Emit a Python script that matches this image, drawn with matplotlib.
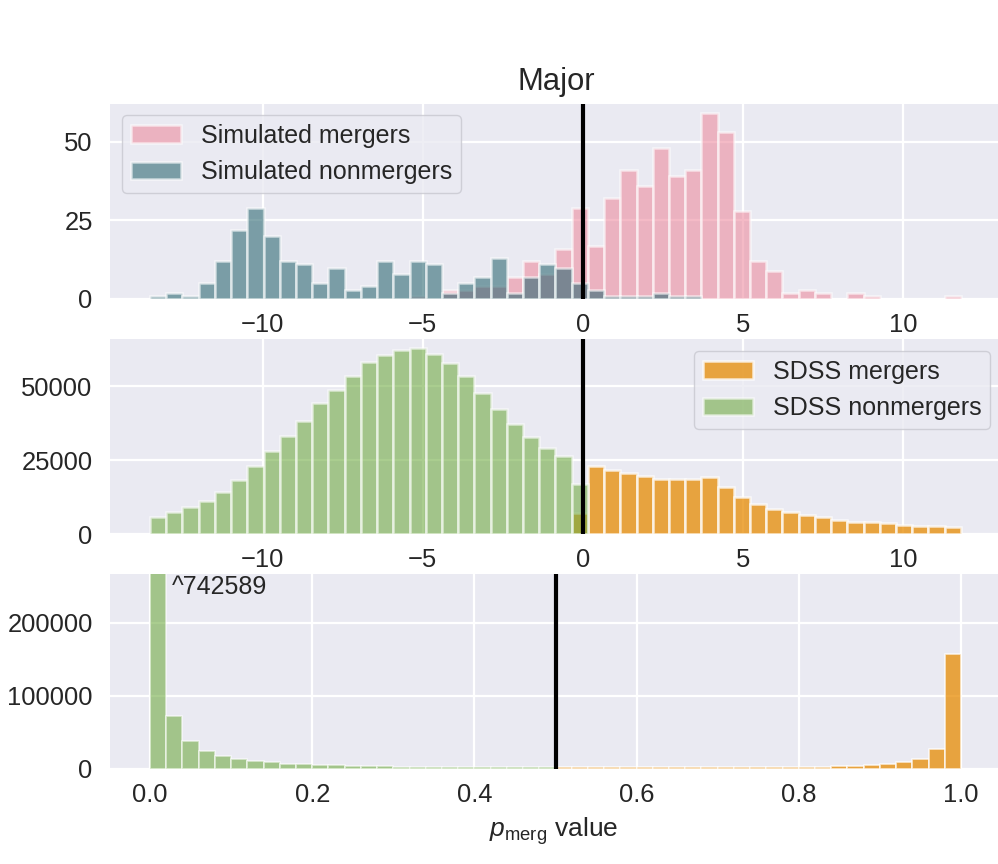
from matplotlib import pyplot as plt
import numpy as np

plt.rcParams['font.family'] = ['Liberation Sans', 'DejaVu Sans']
plt.rcParams['mathtext.fontset'] = 'custom'
plt.rcParams['mathtext.rm'] = 'Liberation Sans'
plt.rcParams['mathtext.it'] = 'Liberation Sans:italic'
plt.rcParams['axes.unicode_minus'] = True

# 读图得到的柱高，50个bin
sim_merg = [0, 0, 0, 0, 0, 0, 0, 0, 0, 0, 0, 0, 0, 0, 0, 0, 1, 0, 3, 3, 4, 4, 7, 12, 8,
            16, 29, 17, 32, 41, 36, 48, 39, 41, 59, 53, 28, 12, 9, 2, 3, 2, 0, 2, 1, 0, 0, 0, 0, 1]
sim_non = [1, 2, 1, 5, 12, 22, 29, 20, 12, 11, 5, 10, 3, 4, 12, 8, 12, 11, 2, 5, 7, 13, 2, 7, 11,
           10, 5, 3, 1, 1, 1, 2, 1, 1, 0, 0, 0, 0, 0, 0, 0, 0, 0, 0, 0, 0, 0, 0, 0, 0]
sdss_merg = [0, 0, 0, 0, 0, 0, 0, 0, 0, 0, 0, 0, 0, 0, 0, 0, 0, 0, 0, 0, 0, 0, 0, 0, 0, 0,
             7000, 23000, 21800, 20600, 19700, 18800, 18800, 18800, 19200, 16000, 12500, 10200,
             8400, 7500, 6600, 5700, 4900, 4200, 3900, 3600, 3200, 2800, 2600, 2300]
sdss_non = [5800, 7300, 9300, 11300, 14300, 18300, 23000, 28000, 33300, 38300, 44300, 48800,
            53600, 58300, 60700, 62400, 63000, 61100, 57900, 53500, 47800, 42300, 37300, 32800,
            29300, 26300, 17000, 0, 0, 0, 0, 0, 0, 0, 0, 0, 0, 0, 0, 0, 0, 0, 0, 0, 0, 0, 0, 0, 0, 0]
p_non = [742589, 73000, 38000, 25000, 18000, 14000, 11000, 9000, 7500, 6500, 5500, 5000, 4500,
         4000, 3700, 3400, 3200, 3000, 2900, 2700, 2500, 2400, 2300, 2200, 2100]
p_merg = [2100, 2100, 2100, 2100, 2200, 2200, 2200, 2300, 2300, 2400, 2400, 2500, 2500, 2600,
          2800, 3000, 3300, 3800, 4600, 5600, 7000, 9000, 14000, 27000, 157000]

score_edges = np.linspace(-13.51, 11.79, 51)
p_edges = np.linspace(0, 1, 51)

PINK = '#ED8DA0'
TEAL = '#2F6A74'
ORANGE = '#E78B03'
GREEN = '#72AC45'
BG = '#EAEAF2'
W, H = 998, 864


def make_axes(top, bottom):
    ax = fig.add_axes([110 / W, 1 - bottom / H, 888 / W, (bottom - top) / H])
    ax.set_facecolor(BG)
    for s in ax.spines.values():
        s.set_visible(False)
    ax.grid(True, color='white', lw=1.6)
    ax.set_axisbelow(True)
    ax.tick_params(length=0, labelsize=18.4, colors='#262626')
    ax.tick_params(axis='x', pad=10)
    ax.tick_params(axis='y', pad=12.5)
    return ax


def draw_bars(ax, edges, counts, color, alpha, label=None, lw=1.8):
    counts = np.array(counts)
    keep = counts > 0  # 空bin不画，否则底部多一条白线
    ax.bar(edges[:-1][keep], counts[keep], width=np.diff(edges)[keep], align='edge', color=color,
           alpha=alpha, edgecolor='white', linewidth=lw, label=label)


def draw_legend(ax, loc, anchor):
    leg = ax.legend(loc=loc, bbox_to_anchor=anchor, fontsize=18, facecolor=BG, edgecolor='#c8c8d0',
                    framealpha=0.8, labelcolor='#262626', handlelength=2.0, handleheight=0.7,
                    labelspacing=0.5, borderpad=0.35, handletextpad=0.8, borderaxespad=0)
    return leg


fig = plt.figure(figsize=(9.98, 8.64), dpi=100)

# 上：模拟数据
ax1 = make_axes(104, 299)
draw_bars(ax1, score_edges, sim_merg, PINK, 0.6, 'Simulated mergers')
draw_bars(ax1, score_edges, sim_non, TEAL, 0.6, 'Simulated nonmergers')
ax1.axvline(0, color='black', lw=3)
ax1.set_xlim(-14.76, 12.95)
ax1.set_ylim(0, 62)
ax1.set_yticks([0, 25, 50])
ax1.set_xticks([-10, -5, 0, 5, 10])
ax1.set_title('Major', fontsize=22.3, color='#262626', pad=10, x=0.503)
draw_legend(ax1, 'upper left', (0.0135, 0.944))

# 中：SDSS
ax2 = make_axes(339, 534)
draw_bars(ax2, score_edges, sdss_merg, ORANGE, 0.75, 'SDSS mergers')
draw_bars(ax2, score_edges, sdss_non, GREEN, 0.6, 'SDSS nonmergers')
ax2.axvline(0, color='black', lw=3)
ax2.set_xlim(-14.76, 12.95)
ax2.set_ylim(0, 66100)
ax2.set_yticks([0, 25000, 50000])
ax2.set_xticks([-10, -5, 0, 5, 10])
draw_legend(ax2, 'upper right', (0.991, 0.938))

# 下：pmerg，柱子很矮，边线要细一点
ax3 = make_axes(574, 769)
draw_bars(ax3, p_edges[:26], p_non, GREEN, 0.6, lw=1.2)
draw_bars(ax3, p_edges[25:], p_merg, ORANGE, 0.75, lw=1.2)
ax3.axvline(0.5, color='black', lw=3)
ax3.set_xlim(-0.0493, 1.0456)
ax3.set_ylim(0, 267000)
ax3.set_yticks([0, 100000, 200000])
ax3.set_xticks([0.0, 0.2, 0.4, 0.6, 0.8, 1.0])
ax3.set_xlabel(r'$p_{\mathrm{merg}}$ value', fontsize=19, color='#262626', labelpad=6)
ax3.text(0.027, 249000, '^742589', fontsize=18, color='#262626', va='center')

fig.savefig('out.png', dpi=100)
